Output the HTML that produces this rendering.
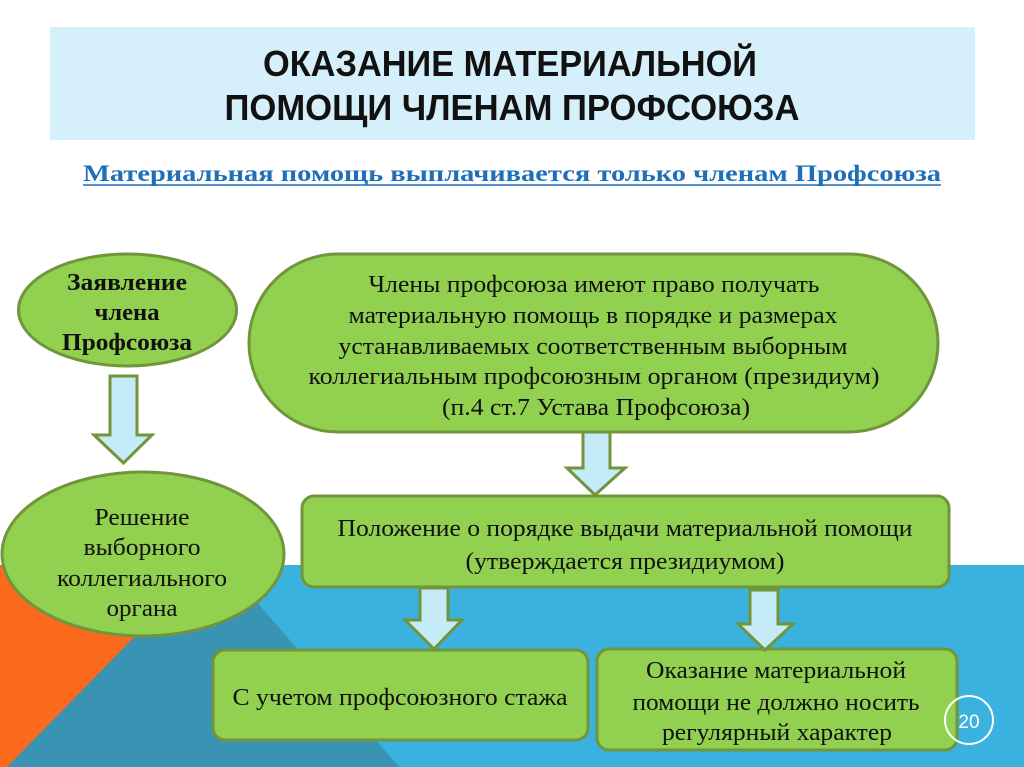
<!DOCTYPE html>
<html><head><meta charset="utf-8">
<style>
html,body{margin:0;padding:0;background:#fff;}
svg{display:block;}
.t{font-family:"Liberation Serif","Noto Serif CJK SC",serif;font-size:24px;fill:#111;text-anchor:middle;}
.s{font-size:23px;}
</style></head>
<body>
<svg width="1024" height="767" viewBox="0 0 1024 767" xmlns="http://www.w3.org/2000/svg">
<rect x="0" y="0" width="1024" height="767" fill="#ffffff"/>
<rect x="0" y="565" width="1024" height="202" fill="#3bb1e0"/>
<polygon points="150,565 225,565 399,767 7,767" fill="#3993b2"/>
<polygon points="0,565 205,565 7,767 0,767" fill="#f96a1d"/>

<rect x="50" y="27" width="925" height="113" fill="#d5f0fb"/>
<text x="510" y="76" text-anchor="middle" font-size="36" font-weight="bold" fill="#111" style="font-family:'Liberation Sans Narrow','Liberation Sans',sans-serif" textLength="494" lengthAdjust="spacingAndGlyphs">ОКАЗАНИЕ МАТЕРИАЛЬНОЙ</text>
<text x="512" y="120" text-anchor="middle" font-size="36" font-weight="bold" fill="#111" style="font-family:'Liberation Sans Narrow','Liberation Sans',sans-serif" textLength="575" lengthAdjust="spacingAndGlyphs">ПОМОЩИ ЧЛЕНАМ ПРОФСОЮЗА</text>

<text x="512" y="181" text-anchor="middle" font-size="23" font-weight="bold" fill="#1f6fb8" style="font-family:'Liberation Serif',serif" textLength="858" lengthAdjust="spacingAndGlyphs">Материальная помощь выплачивается только членам Профсоюза</text>
<line x1="83" y1="185" x2="941" y2="185" stroke="#1f6fb8" stroke-width="1.5"/>

<g fill="#92d050" stroke="#71953a" stroke-width="3">
<ellipse cx="127.5" cy="310" rx="109" ry="56"/>
<rect x="249" y="254" width="689" height="178" rx="89" ry="89"/>
<ellipse cx="143" cy="554" rx="141" ry="82"/>
<rect x="302" y="496" width="647" height="91" rx="12"/>
<rect x="213" y="650" width="375" height="90" rx="12"/>
<rect x="597" y="649" width="360" height="101" rx="12"/>
</g>
<g fill="#c5ebf8" stroke="#71953a" stroke-width="3" stroke-linejoin="miter">
<polygon points="110,376 137,376 137,435 152,435 123.5,463 94,435 110,435"/>
<polygon points="583,432 610,432 610,468 625,468 595,495 567,468 583,468"/>
<polygon points="420,588 448,588 448,620 462,620 434,649 405,620 420,620"/>
<polygon points="750,590 778,590 778,624 793,624 765,650 738,624 750,624"/>
</g>

<text x="127" y="290" class="t" font-weight="bold" font-size="22" textLength="120" lengthAdjust="spacingAndGlyphs">Заявление</text>
<text x="127" y="320" class="t" font-weight="bold" font-size="22" textLength="65" lengthAdjust="spacingAndGlyphs">члена</text>
<text x="127" y="350" class="t" font-weight="bold" font-size="22" textLength="130" lengthAdjust="spacingAndGlyphs">Профсоюза</text>

<text x="594" y="292" class="t" textLength="451" lengthAdjust="spacingAndGlyphs">Члены профсоюза имеют право получать</text>
<text x="593" y="323" class="t" textLength="489" lengthAdjust="spacingAndGlyphs">материальную помощь в порядке и размерах</text>
<text x="593" y="354" class="t" textLength="509" lengthAdjust="spacingAndGlyphs">устанавливаемых соответственным выборным</text>
<text x="594" y="384" class="t" textLength="571" lengthAdjust="spacingAndGlyphs">коллегиальным профсоюзным органом (президиум)</text>
<text x="596" y="415" class="t" textLength="308" lengthAdjust="spacingAndGlyphs">(п.4 ст.7 Устава Профсоюза)</text>

<text x="142" y="525" class="t" textLength="95" lengthAdjust="spacingAndGlyphs">Решение</text>
<text x="142" y="555" class="t" textLength="117" lengthAdjust="spacingAndGlyphs">выборного</text>
<text x="142" y="586" class="t" textLength="170" lengthAdjust="spacingAndGlyphs">коллегиального</text>
<text x="142" y="616" class="t" textLength="71" lengthAdjust="spacingAndGlyphs">органа</text>

<text x="625" y="536" class="t" textLength="575" lengthAdjust="spacingAndGlyphs">Положение о порядке выдачи материальной помощи</text>
<text x="625" y="569" class="t" textLength="319" lengthAdjust="spacingAndGlyphs">(утверждается президиумом)</text>

<text x="400" y="705" class="t" textLength="335" lengthAdjust="spacingAndGlyphs">С учетом профсоюзного стажа</text>

<text x="776" y="678" class="t" textLength="260" lengthAdjust="spacingAndGlyphs">Оказание материальной</text>
<text x="776" y="710" class="t" textLength="287" lengthAdjust="spacingAndGlyphs">помощи не должно носить</text>
<text x="777" y="740" class="t" textLength="230" lengthAdjust="spacingAndGlyphs">регулярный характер</text>

<circle cx="969" cy="720" r="24" fill="none" stroke="#ffffff" stroke-width="2"/>
<text x="969" y="728" text-anchor="middle" font-size="19" fill="#ffffff" style="font-family:'Liberation Sans',sans-serif">20</text>
</svg>
</body></html>
